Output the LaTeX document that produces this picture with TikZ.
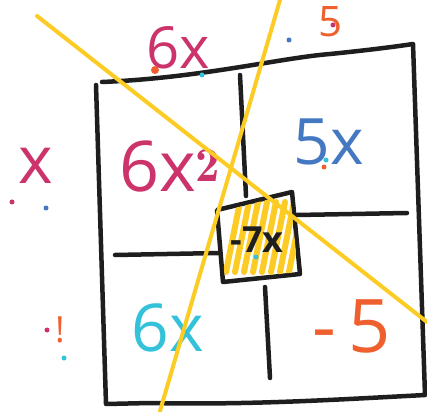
\documentclass[tikz,border=0pt]{standalone}
\usepackage{fontspec}
\setsansfont{Open Sans}
\definecolor{inkblack}{HTML}{1E1E1E}
\definecolor{inkpink}{HTML}{CC336B}
\definecolor{inkblue}{HTML}{4479C2}
\definecolor{inkcyan}{HTML}{33C2DA}
\definecolor{inkorange}{HTML}{F0602E}
\definecolor{inkyellow}{HTML}{FDCC24}

\begin{document}
\begin{tikzpicture}[x=1pt, y=-1pt,
    pen/.style={line width=4.5pt, line cap=round, line join=round, draw=inkblack},
    marker/.style={line width=4pt, line cap=round, draw=inkyellow},
    word/.style={font=\sffamily, inner sep=0pt},
    dot/.style={circle, inner sep=0pt, minimum size=5pt}]
  \useasboundingbox (0,0) rectangle (427,411);

  % outer square
  \draw[pen] (102,82) .. controls (200,78) and (280,58) .. (330,54)
    .. controls (370,50) and (400,46) .. (413,44) -- (425,395)
    .. controls (330,400) and (250,405) .. (150,403) -- (106,404) -- (96,85);
  % cross lines
  \draw[pen] (240,75) -- (246,196);
  \draw[pen] (265,287) -- (270,378);
  \draw[pen] (115,255) -- (219,253);
  \draw[pen] (297,215) -- (407,213);
  % centre square
  \draw[pen] (217,210) -- (292,192) -- (300,274) -- (223,282) -- cycle;

  % yellow hatching in the centre square
  \begin{scope}
    \clip (219,212) -- (290,194) -- (298,272) -- (225,280) -- cycle;
    \foreach \s in {0,9,...,63}
      \draw[marker, line width=6pt] (226+\s,272) -- (240+\s,202);
  \end{scope}

  % terms
  \node[word, text=inkpink, font=\sffamily\fontsize{58}{58}\selectfont] (topx) at (178,48) {6x};
  \node[word, text=inkpink, font=\sffamily\fontsize{70}{70}\selectfont] (sqr) at (170,166) {6x$^{\mathbf 2}$};
  \node[word, text=inkblue, font=\sffamily\fontsize{64}{64}\selectfont] (fivex) at (329,142) {5x};
  \node[word, text=inkcyan, font=\sffamily\fontsize{66}{66}\selectfont] (lowx) at (168,328) {6x};
  \node[word, text=inkorange, font=\sffamily\fontsize{74}{74}\selectfont] (five) at (352,326) {-\,5};
  \node[word, text=inkpink, font=\sffamily\fontsize{66}{66}\selectfont] (leftx) at (36,166) {x};
  \node[word, text=inkorange, font=\sffamily\fontsize{42}{42}\selectfont] (corner) at (330,22) {5};
  \node[word, text=inkorange, font=\sffamily\fontsize{36}{36}\selectfont] (bang) at (60,330) {!};

  % stray dots
  \node[dot, fill=inkblue] (d1) at (289,40) {};
  \node[dot, fill=inkcyan] (d2) at (202,75) {};
  \node[dot, fill=inkorange, minimum size=8pt] (d3) at (155,70) {};
  \node[dot, fill=inkpink] (d4) at (333,25) {};
  \node[dot, fill=inkblue] (d5) at (46,208) {};
  \node[dot, fill=inkpink] (d6) at (12,202) {};
  \node[dot, fill=inkcyan] (d7) at (64,358) {};
  \node[dot, fill=inkpink] (d8) at (47,330) {};
  \node[dot, fill=inkcyan] (d9) at (326,160) {};
  \node[dot, fill=inkorange] (d10) at (324,167) {};

  % crossing strokes
  \draw[marker] (37,16) -- (427,322);
  \draw[marker] (280,0) -- (160,411);

  \node[word, text=inkblack, font=\sffamily\bfseries\fontsize{36}{36}\selectfont] (mid) at (257,240) {-7x};
  \node[dot, fill=inkcyan] (d11) at (256,257) {};
\end{tikzpicture}
\end{document}
